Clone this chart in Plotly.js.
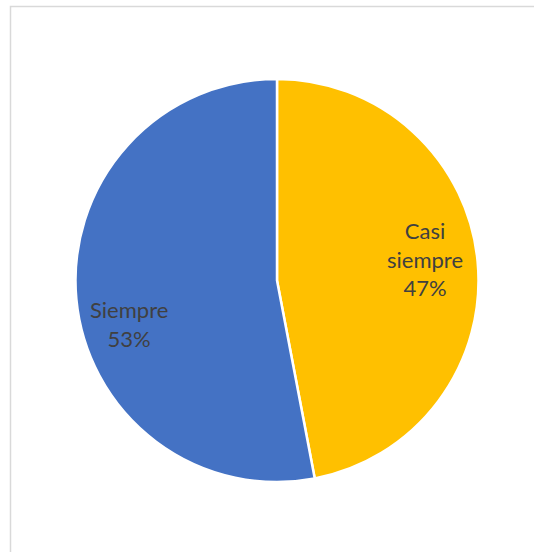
<!DOCTYPE html>
<html>
<head>
<meta charset="utf-8">
<script src="https://cdn.plot.ly/plotly-3.0.1.min.js"></script>
<style>html,body{margin:0;padding:0;background:#fff;}#chart{width:534px;height:552px;}</style>
</head>
<body>
<div id="chart"></div>
<script>
const categories = ["Casi siempre", "Siempre"];
const displayLabels = ["Casi<br>siempre", "Siempre"];
const values = [47, 53];
const colors = ["#FFC000", "#4472C4"];

// label placement style (angle offset in degrees, radial fraction of radius)
const labelAngleOffset = [-2.9, -10.8];
const labelRadiusFrac = [0.74, 0.765];

const W = 534, H = 552;
const dom = { x: [75 / W, 479 / W], y: [1 - 482 / H, 1 - 79 / H] };

const trace = {
  type: "pie",
  labels: categories,
  values: values,
  sort: false,
  direction: "clockwise",
  rotation: 0,
  marker: { colors: colors, line: { color: "#FFFFFF", width: 2.5 } },
  textinfo: "none",
  hoverinfo: "label+percent",
  domain: dom,
  showlegend: false
};

// Data labels placed from slice angles
const total = values.reduce((a, b) => a + b, 0);
const cxPx = (dom.x[0] + dom.x[1]) / 2 * W;
const cyPx = (dom.y[0] + dom.y[1]) / 2 * H;
const Rpx = Math.min((dom.x[1] - dom.x[0]) * W, (dom.y[1] - dom.y[0]) * H) / 2;
let cum = 0;
const annotations = values.map((v, i) => {
  const mid = (cum + v / 2) / total * 360 + labelAngleOffset[i];
  cum += v;
  const a = mid * Math.PI / 180;
  const r = Rpx * labelRadiusFrac[i];
  const pct = Math.round(v / total * 100) + "%";
  return {
    xref: "paper", yref: "paper",
    x: (cxPx + r * Math.sin(a)) / W,
    y: (cyPx + r * Math.cos(a)) / H,
    xanchor: "center", yanchor: "middle",
    text: displayLabels[i] + "<br>" + pct,
    showarrow: false,
    align: "center",
    font: { family: "Lato, 'Open Sans', sans-serif", size: 22, color: "#404040" }
  };
});

const layout = {
  width: W,
  height: H,
  margin: { l: 0, r: 0, t: 0, b: 0 },
  paper_bgcolor: "#FFFFFF",
  plot_bgcolor: "#FFFFFF",
  showlegend: false,
  annotations: annotations,
  shapes: [{
    type: "rect", xref: "paper", yref: "paper",
    x0: 10.5 / W, x1: 1.2, y0: -0.2, y1: 1 - 6.5 / H,
    line: { color: "#D9D9D9", width: 1.5 }, fillcolor: "rgba(0,0,0,0)"
  }]
};

Plotly.newPlot("chart", [trace], layout, { staticPlot: true, displayModeBar: false });
</script>
</body>
</html>
